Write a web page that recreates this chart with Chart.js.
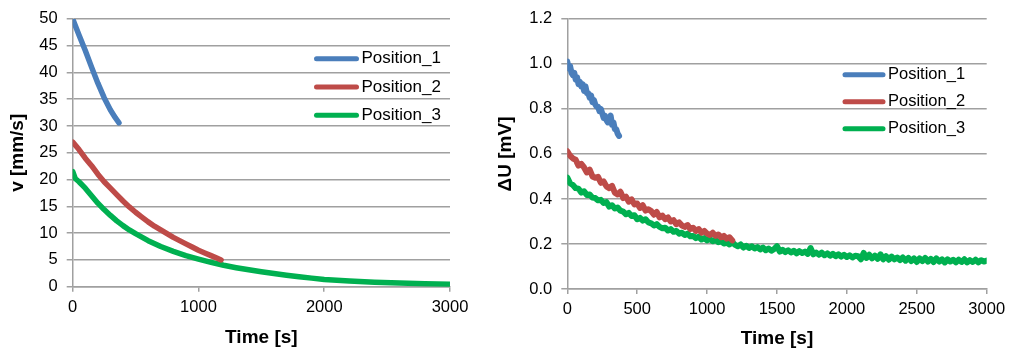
<!DOCTYPE html>
<html>
<head>
<meta charset="utf-8">
<script src="https://cdn.jsdelivr.net/npm/chart.js@4.4.1/dist/chart.umd.min.js"></script>
<style>
  body { margin: 0; background: #fff; }
  #wrap { position: relative; width: 1024px; height: 353px; }
  canvas { position: absolute; top: 0; }
  #velChart { left: 0; }
  #duChart { left: 490px; }
</style>
</head>
<body>
<div id="wrap">
  <canvas id="velChart" width="490" height="353"></canvas>
  <canvas id="duChart" width="534" height="353"></canvas>
</div>
<script>
// ---- data ----
var seriesNames = ['Position_1', 'Position_2', 'Position_3'];
var seriesColors = ['#4a7ebb', '#be4b48', '#00b050'];

// left chart: velocity v [mm/s]
var velTime1 = [0, 50, 100, 150, 200, 250, 300, 340, 368];
var velVal1  = [50.0, 47.0, 44.1, 41.0, 38.0, 35.3, 33.0, 31.5, 30.6];

var velTime2 = [0, 50, 100, 150, 200, 250, 300, 350, 400, 450, 500, 550, 600, 650, 700, 750, 800, 850, 900, 950, 1000, 1050, 1100, 1150, 1180];
var velVal2  = [27.0, 25.6, 24.0, 22.6, 21.0, 19.6, 18.4, 17.2, 16.0, 14.9, 13.9, 13.0, 12.1, 11.3, 10.6, 9.9, 9.2, 8.6, 8.0, 7.4, 6.8, 6.3, 5.8, 5.3, 5.0];

var velTime3 = [0, 20, 50, 100, 150, 200, 250, 300, 350, 400, 450, 500, 600, 700, 800, 900, 1000, 1100, 1200, 1300, 1400, 1500, 1600, 1700, 1800, 1900, 2000, 2200, 2400, 2600, 2800, 3000];
var velVal3  = [21.5, 20.2, 19.6, 18.4, 17.0, 15.6, 14.4, 13.3, 12.3, 11.4, 10.6, 9.9, 8.6, 7.5, 6.6, 5.8, 5.15, 4.55, 4.0, 3.55, 3.15, 2.8, 2.45, 2.15, 1.85, 1.6, 1.35, 1.05, 0.85, 0.7, 0.55, 0.45];

// right chart: voltage dU [mV], sampled at a fixed interval (s)
var duStep1 = 10;
var duVal1 = [1.01, 0.98, 0.99, 0.96, 0.95, 0.96, 0.93, 0.94, 0.91, 0.92, 0.90, 0.91, 0.88, 0.90, 0.87, 0.87, 0.85, 0.86, 0.83, 0.84,
              0.82, 0.81, 0.81, 0.79, 0.80, 0.78, 0.76, 0.77, 0.75, 0.74, 0.75, 0.77, 0.73, 0.74, 0.71, 0.71, 0.69, 0.68];

var duStep2 = 20;
var duVal2 = [0.612, 0.592, 0.580, 0.574, 0.548, 0.556, 0.540, 0.518, 0.530, 0.500, 0.494, 0.498, 0.472, 0.478, 0.456, 0.448, 0.458, 0.428, 0.420, 0.432,
              0.404, 0.410, 0.388, 0.398, 0.376, 0.380, 0.360, 0.372, 0.348, 0.354, 0.346, 0.330, 0.342, 0.318, 0.326, 0.310, 0.318, 0.300, 0.306, 0.288,
              0.296, 0.282, 0.276, 0.284, 0.266, 0.272, 0.258, 0.266, 0.250, 0.258, 0.246, 0.240, 0.250, 0.236, 0.242, 0.230, 0.236, 0.224, 0.230, 0.216];

var duStep3 = 20;
var duVal3 = [0.495, 0.470, 0.462, 0.448, 0.446, 0.428, 0.434, 0.418, 0.420, 0.406,
              0.404, 0.394, 0.396, 0.382, 0.386, 0.366, 0.372, 0.358, 0.362, 0.348,
              0.344, 0.332, 0.338, 0.324, 0.328, 0.310, 0.316, 0.304, 0.310, 0.296,
              0.292, 0.282, 0.288, 0.276, 0.270, 0.272, 0.260, 0.266, 0.254, 0.258,
              0.246, 0.250, 0.240, 0.246, 0.234, 0.236, 0.226, 0.232, 0.220, 0.226,
              0.216, 0.222, 0.212, 0.218, 0.208, 0.212, 0.202, 0.206, 0.198, 0.208,
              0.196, 0.190, 0.198, 0.184, 0.192, 0.182, 0.190, 0.180, 0.186, 0.176,
              0.184, 0.172, 0.180, 0.170, 0.178, 0.190, 0.166, 0.174, 0.164, 0.172,
              0.162, 0.170, 0.158, 0.168, 0.160, 0.166, 0.156, 0.182, 0.154, 0.162,
              0.152, 0.162, 0.150, 0.158, 0.148, 0.156, 0.146, 0.154, 0.144, 0.152,
              0.142, 0.150, 0.140, 0.148, 0.146, 0.132, 0.160, 0.138, 0.152, 0.136,
              0.148, 0.134, 0.154, 0.132, 0.146, 0.130, 0.144, 0.132, 0.140, 0.128,
              0.140, 0.126, 0.138, 0.124, 0.136, 0.120, 0.136, 0.124, 0.138, 0.122,
              0.134, 0.120, 0.136, 0.122, 0.132, 0.118, 0.132, 0.122, 0.130, 0.118,
              0.130, 0.120, 0.132, 0.118, 0.128, 0.120, 0.130, 0.118, 0.128, 0.122,
              0.126];

// ---- helpers ----
function pairs(times, vals) {
  return vals.map(function (v, i) { return { x: times[i], y: v }; });
}
function stepped(step, vals) {
  return vals.map(function (v, i) { return { x: i * step, y: v }; });
}

var FONT = "'Liberation Sans', Arial, sans-serif";
var GRID = '#a0a0a0';

// legend drawn inside the plot area
var insideLegend = {
  id: 'insideLegend',
  afterDraw: function (chart, args, opts) {
    var ctx = chart.ctx;
    ctx.save();
    chart.data.datasets.forEach(function (ds, i) {
      var y = opts.y + i * opts.gap;
      ctx.strokeStyle = ds.borderColor;
      ctx.lineWidth = 5;
      ctx.lineCap = 'round';
      ctx.beginPath();
      ctx.moveTo(opts.x, y);
      ctx.lineTo(opts.x + opts.len, y);
      ctx.stroke();
      ctx.fillStyle = '#000';
      ctx.font = opts.size + 'px ' + FONT;
      ctx.textBaseline = 'middle';
      ctx.textAlign = 'left';
      ctx.fillText(ds.label, opts.x + opts.len + 5, y);
    });
    ctx.restore();
  }
};

function makeDatasets(dataList, width) {
  return dataList.map(function (d, i) {
    return {
      label: seriesNames[i],
      data: d,
      borderColor: seriesColors[i],
      backgroundColor: seriesColors[i],
      borderWidth: width,
      borderCapStyle: 'round',
      borderJoinStyle: 'round',
      pointRadius: 0,
      tension: 0,
      fill: false
    };
  });
}

function makeOptions(cfg) {
  return {
    responsive: false,
    animation: false,
    devicePixelRatio: 1,
    layout: { padding: { left: 0, right: cfg.padRight, top: cfg.padTop, bottom: 0 } },
    plugins: {
      legend: { display: false },
      tooltip: { enabled: false },
      insideLegend: cfg.legend
    },
    scales: {
      x: {
        type: 'linear',
        min: 0,
        max: 3000,
        ticks: { stepSize: cfg.xStep, color: '#000', font: { family: FONT, size: 16.5 }, padding: 6, maxRotation: 0,
                 callback: function (v) { return String(v); } },
        grid: { drawOnChartArea: false, drawTicks: true, tickLength: 5, color: GRID, lineWidth: 1.5 },
        border: { display: true, color: GRID, width: 1.5 },
        title: { display: true, text: 'Time [s]', color: '#000', font: { family: FONT, size: 19, weight: 'bold' }, padding: { top: 0, bottom: cfg.xTitlePad } },
        afterFit: function (s) { s.height = cfg.xHeight; }
      },
      y: {
        min: 0,
        max: cfg.yMax,
        ticks: { stepSize: cfg.yStep, color: '#000', font: { family: FONT, size: 16.5 }, padding: 9, callback: cfg.yFmt },
        grid: { drawTicks: true, tickLength: 6, color: GRID, lineWidth: 1.5 },
        border: { display: true, color: GRID, width: 1.5 },
        title: { display: true, text: cfg.yTitle, color: '#000', font: { family: FONT, size: 19, weight: 'bold' }, padding: { top: cfg.yTitlePad, bottom: 0 } },
        afterFit: function (s) { s.width = cfg.yWidth; }
      }
    }
  };
}

new Chart(document.getElementById('velChart'), {
  type: 'line',
  data: {
    datasets: makeDatasets([pairs(velTime1, velVal1), pairs(velTime2, velVal2), pairs(velTime3, velVal3)], 5.5)
  },
  options: makeOptions({
    padRight: 40, padTop: 16, xHeight: 66.3, xTitlePad: 3.5, xStep: 1000,
    yMax: 50, yStep: 5, yWidth: 72.7, yTitlePad: 6, yTitle: 'v [mm/s]',
    yFmt: function (v) { return String(v); },
    legend: { x: 316.5, y: 58.7, gap: 28.3, len: 40, size: 17 }
  }),
  plugins: [insideLegend]
});

new Chart(document.getElementById('duChart'), {
  type: 'line',
  data: {
    datasets: makeDatasets([stepped(duStep1, duVal1), stepped(duStep2, duVal2), stepped(duStep3, duVal3)], 6)
  },
  options: makeOptions({
    padRight: 37.3, padTop: 14.7, xHeight: 64, xTitlePad: 2.5, xStep: 500,
    yMax: 1.2, yStep: 0.2, yWidth: 77.3, yTitlePad: 4.5, yTitle: '\u0394U [mV]',
    yFmt: function (v) { return Number(v).toFixed(1); },
    legend: { x: 355, y: 74.7, gap: 27, len: 38, size: 16.5 }
  }),
  plugins: [insideLegend]
});
</script>
</body>
</html>
